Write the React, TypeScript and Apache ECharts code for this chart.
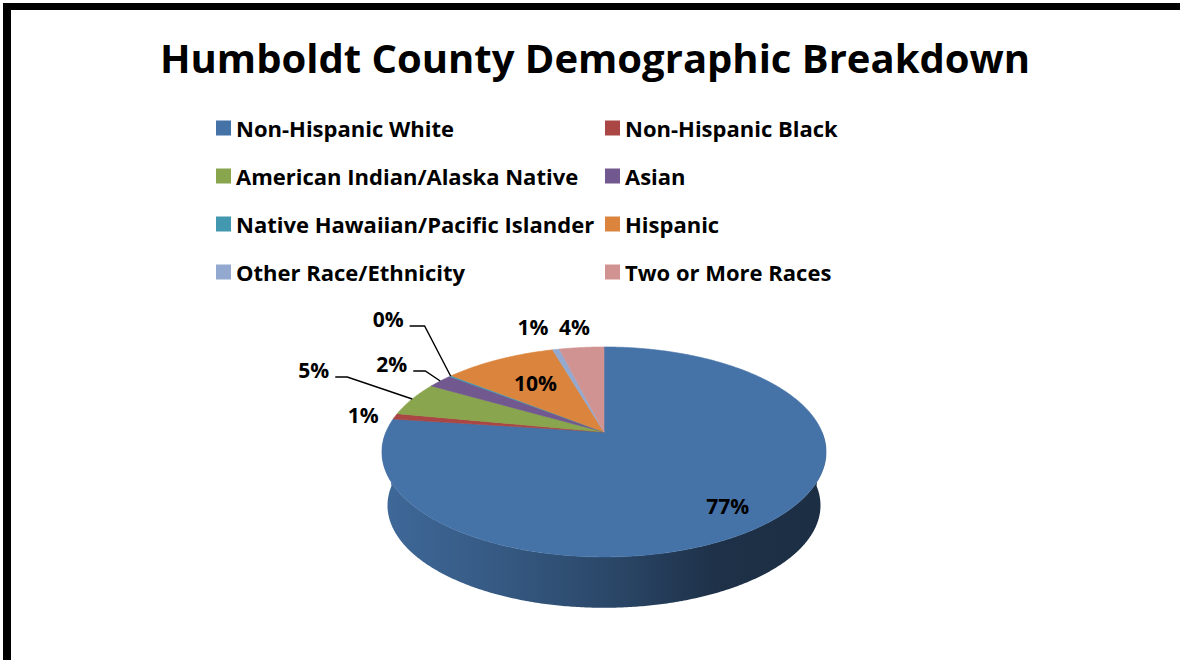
import React, { useEffect, useRef } from 'react';
import * as echarts from 'echarts';

const chartTitle = 'Humboldt County Demographic Breakdown';

const categories = [
  'Non-Hispanic White',
  'Non-Hispanic Black',
  'American Indian/Alaska Native',
  'Asian',
  'Native Hawaiian/Pacific Islander',
  'Hispanic',
  'Other Race/Ethnicity',
  'Two or More Races',
];

// Share of county population, percent
const shares = [77.1, 0.9, 5.3, 2.2, 0.2, 9.8, 0.6, 3.9];

const sliceColors = ['#4572A7', '#AA4643', '#89A54E', '#71588F', '#4198AF', '#DB843D', '#93A9CF', '#D19392'];

// Legend is laid out in two columns
const leftLegendNames = [categories[0], categories[2], categories[4], categories[6]];
const rightLegendNames = [categories[1], categories[3], categories[5], categories[7]];

const FONT = '"Open Sans", Lato, sans-serif';

// Tilted pie geometry (screen pixels) with a light perspective
const PIE = { cx: 604, cy: 432, rx: 218, ry: 101.2, persp: 0.19, depth: 54, baseScale: 0.975 };

// Label placement per slice: radius along the mid angle plus a nudge, or a leader line
const labelLayout: Array<{ r: number; dx?: number; dy?: number; leader?: number[][] }> = [
  { r: 0.8, dx: -6, dy: 5 },
  { r: 1, dx: -32, dy: -1 },
  { r: 1, leader: [[-65, -22], [-77, -22]] },
  { r: 1, leader: [[-15, -10], [-27, -10]] },
  { r: 1, leader: [[-26, -50], [-41, -50]] },
  { r: 0.65, dx: 3, dy: 1 },
  { r: 1, dx: -23, dy: -22 },
  { r: 1, dx: -7, dy: -20 },
];

const total = shares.reduce((a, b) => a + b, 0);

function rimPoint(phi: number, r: number, base: boolean): number[] {
  const u = r * Math.sin(phi);
  const v = -r * Math.cos(phi);
  const w = 1 - PIE.persp * v;
  const s = base ? PIE.baseScale : 1;
  return [PIE.cx + (PIE.rx * s * u) / w, PIE.cy + (PIE.ry * s * v) / w + (base ? PIE.depth : 0)];
}

function arc(a: number, b: number, base: boolean): number[][] {
  const n = Math.max(2, Math.ceil((b - a) / (Math.PI / 360)));
  const pts: number[][] = [];
  for (let k = 0; k <= n; k++) pts.push(rimPoint(a + ((b - a) * k) / n, 1, base));
  return pts;
}

function shade(hex: string, f: number): string {
  const n = parseInt(hex.slice(1), 16);
  const r = Math.round(((n >> 16) & 255) * f);
  const g = Math.round(((n >> 8) & 255) * f);
  const b = Math.round((n & 255) * f);
  return `rgb(${r},${g},${b})`;
}

function renderSlice(i: number, value: number) {
  const before = shares.slice(0, i).reduce((a, b) => a + b, 0);
  const start = (before / total) * Math.PI * 2;
  const end = start + (value / total) * Math.PI * 2;
  const color = sliceColors[i];
  const children: any[] = [];

  // Outer wall, only on the front half facing the viewer
  const a = Math.max(start, Math.PI / 2);
  const b = Math.min(end, (Math.PI * 3) / 2);
  if (b > a) {
    const top = arc(a, b, false);
    const bottom = arc(a, b, true).reverse();
    children.push({
      type: 'polygon',
      z2: 0,
      shape: { points: top.concat(bottom) },
      style: {
        fill: new echarts.graphic.LinearGradient(
          PIE.cx - PIE.rx * 1.02,
          0,
          PIE.cx + PIE.rx * 1.02,
          0,
          [
            { offset: 0, color: shade(color, 0.92) },
            { offset: 0.3, color: shade(color, 0.76) },
            { offset: 0.55, color: shade(color, 0.6) },
            { offset: 0.75, color: shade(color, 0.43) },
            { offset: 1, color: shade(color, 0.4) },
          ],
          true
        ),
        stroke: null,
      },
    });
  }

  // Top face
  const face = [[PIE.cx, PIE.cy]].concat(arc(start, end, false));
  children.push({
    type: 'polygon',
    z2: 10,
    shape: { points: face },
    style: { fill: color, stroke: color, lineWidth: 0.6 },
  });

  // Percentage label
  const mid = (start + end) / 2;
  const lay = labelLayout[i];
  const anchor = rimPoint(mid, lay.r, false);
  const text = `${Math.round((value / total) * 100)}%`;
  const font = { fontFamily: FONT, fontWeight: 'bold', fontSize: 21, fill: '#000' };
  if (lay.leader) {
    const pts = [anchor].concat(lay.leader.map((d) => [anchor[0] + d[0], anchor[1] + d[1]]));
    children.push({
      type: 'polyline',
      z2: 20,
      shape: { points: pts },
      style: { stroke: '#000', lineWidth: 1.4, fill: null },
    });
    const endPt = pts[pts.length - 1];
    children.push({
      type: 'text',
      z2: 30,
      x: endPt[0] - 6,
      y: endPt[1] - 7,
      style: { ...font, text, align: 'right', verticalAlign: 'middle' },
    });
  } else {
    children.push({
      type: 'text',
      z2: 30,
      x: anchor[0] + (lay.dx || 0),
      y: anchor[1] + (lay.dy || 0),
      style: { ...font, text, align: 'center', verticalAlign: 'middle' },
    });
  }

  return { type: 'group', children };
}

const legendText = { fontFamily: FONT, fontWeight: 'bold' as const, fontSize: 22, color: '#000', lineHeight: 22 };

export default function App() {
  const ref = useRef<HTMLDivElement>(null);

  useEffect(() => {
    if (!ref.current) return;
    const chart = echarts.init(ref.current, undefined, { renderer: 'svg' });
    chart.setOption({
      animation: false,
      backgroundColor: '#ffffff',
      legend: [
        {
          orient: 'vertical',
          left: 216,
          top: 117,
          padding: 0,
          itemWidth: 15,
          itemHeight: 15,
          itemGap: 26,
          icon: 'rect',
          selectedMode: false,
          data: leftLegendNames,
          textStyle: legendText,
        },
        {
          orient: 'vertical',
          left: 605,
          top: 117,
          padding: 0,
          itemWidth: 15,
          itemHeight: 15,
          itemGap: 26,
          icon: 'rect',
          selectedMode: false,
          data: rightLegendNames,
          textStyle: legendText,
        },
      ],
      graphic: [
        { type: 'rect', left: 3, top: 3, shape: { width: 1177, height: 7 }, style: { fill: '#000' } },
        { type: 'rect', left: 3, top: 3, shape: { width: 8, height: 657 }, style: { fill: '#000' } },
        {
          type: 'text',
          x: 595,
          y: 57,
          style: {
            text: chartTitle,
            fontFamily: FONT,
            fontWeight: 'bold',
            fontSize: 40,
            fill: '#000',
            align: 'center',
            verticalAlign: 'middle',
          },
        },
      ],
      series: categories.map((name, i) => ({
        type: 'custom',
        name,
        coordinateSystem: 'none',
        silent: true,
        itemStyle: { color: sliceColors[i] },
        data: [[shares[i]]],
        renderItem: (_params: any, api: any) => renderSlice(i, api.value(0) as number),
      })),
    });
    return () => chart.dispose();
  }, []);

  return (
    <div
      ref={ref}
      style={{ position: 'fixed', left: 0, top: 0, width: 1180, height: 660, background: '#fff' }}
    />
  );
}
